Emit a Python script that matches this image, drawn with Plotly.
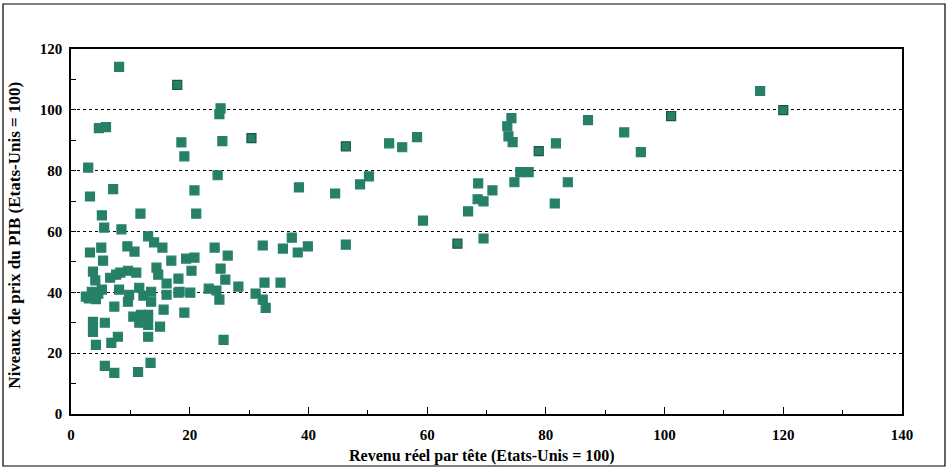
import plotly.graph_objects as go

# Revenu réel par tête (Etats-Unis = 100)
revenu = [
    8.1, 17.9, 25.2, 25.0, 4.7, 5.9, 18.6, 25.5, 19.1, 2.9,
    24.7, 3.2, 7.1, 20.8, 5.2, 11.7, 21.1, 5.6, 8.5, 13.0,
    14.0, 15.4, 9.5, 10.7, 3.2, 5.1, 5.4, 16.9, 19.4, 20.8,
    20.3, 3.7, 7.6, 8.3, 9.6, 11.0, 14.4, 14.7, 18.1, 4.1,
    6.6, 16.1, 11.5, 8.1, 9.8, 13.5, 12.2, 16.1, 18.3, 5.2,
    2.5, 3.7, 7.3, 9.6, 13.5, 15.6, 10.5, 11.8, 13.0, 11.5,
    13.0, 3.7, 5.7, 3.7, 7.9, 13.0, 15.0, 4.2, 6.8, 5.7,
    7.3, 11.3, 13.4, 19.1, 24.2, 26.4, 25.2, 26.0, 23.2, 24.5,
    20.1, 18.1, 25.0, 25.7, 28.2, 32.6, 35.3, 31.1, 32.3, 32.8,
    32.3, 37.2, 35.7, 38.2, 39.9, 46.3, 30.4, 46.3, 53.6, 55.8,
    58.3, 38.4, 44.5, 48.7, 50.2, 59.3, 65.1, 69.5, 66.9, 68.5,
    69.5, 68.6, 71.0, 74.7, 75.7, 77.1, 83.7, 81.5, 74.2, 73.5,
    73.7, 74.4, 78.8, 81.7, 87.1, 93.2, 96.0, 101.1, 116.1, 120.0,
    3.0, 4.2, 3.5, 4.6,
]

# Niveaux de prix du PIB (Etats-Unis = 100)
prix = [
    114.1, 108.2, 100.5, 98.6, 94.0, 94.3, 89.3, 89.7, 84.7, 81.0,
    78.5, 71.5, 73.9, 73.5, 65.3, 65.9, 65.9, 61.3, 60.7, 58.4,
    56.4, 54.7, 55.1, 53.4, 53.1, 54.7, 50.4, 50.4, 51.1, 51.4,
    47.1, 46.8, 45.8, 46.5, 47.1, 46.5, 48.1, 45.8, 44.5, 43.9,
    44.8, 42.9, 41.5, 40.9, 39.2, 40.2, 38.9, 39.2, 40.2, 40.9,
    38.6, 39.2, 35.3, 36.9, 36.9, 34.3, 32.0, 32.6, 32.6, 30.0,
    29.3, 30.3, 30.0, 27.0, 25.4, 25.4, 28.7, 22.7, 23.4, 15.8,
    13.5, 13.8, 16.8, 33.3, 54.7, 52.1, 47.8, 44.2, 41.2, 40.6,
    39.9, 39.9, 37.6, 24.4, 41.9, 43.2, 43.2, 39.6, 37.6, 34.9,
    55.4, 58.0, 54.4, 53.1, 55.1, 55.7, 90.7, 88.0, 89.0, 87.7,
    91.0, 74.5, 72.5, 75.5, 78.1, 63.6, 56.0, 57.7, 66.6, 70.6,
    69.9, 75.8, 73.5, 76.2, 79.5, 79.5, 76.2, 69.2, 97.3, 94.6,
    91.3, 89.4, 86.4, 89.0, 96.6, 92.6, 86.1, 97.9, 106.2, 99.9,
    38.0, 37.8, 40.2, 39.6,
]

x_ticks = [0, 20, 40, 60, 80, 100, 120, 140]
y_ticks = [0, 20, 40, 60, 80, 100, 120]

x_title = "Revenu réel par tête (Etats-Unis = 100)"
y_title = "Niveaux de prix du PIB (Etats-Unis = 100)"

teal = "rgb(38,128,104)"
dark_idx = {1, 96, 97, 106, 122, 127, 129}
line_cols = ["rgb(24,88,72)" if i in dark_idx else teal for i in range(len(revenu))]

fig = go.Figure()
fig.add_trace(go.Scatter(
    x=revenu, y=prix, mode="markers",
    marker=dict(symbol="square", size=9, color=teal,
                line=dict(color=line_cols, width=1.2)),
    hoverinfo="x+y", showlegend=False,
))

font_serif = "Liberation Serif"
fig.update_layout(
    width=950, height=473,
    margin=dict(l=71, r=48, t=49, b=59),
    paper_bgcolor="white", plot_bgcolor="white",
    font=dict(family=font_serif, color="black"),
    xaxis=dict(
        range=[0, 140], tickvals=x_ticks, ticktext=[str(v) for v in x_ticks],
        ticks="inside", ticklen=7, tickwidth=1, tickcolor="black",
        minor=dict(dtick=10, ticks="inside", ticklen=4, tickcolor="black"),
        showgrid=False, zeroline=False,
        showline=True, linecolor="black", linewidth=1.5, mirror=True,
        tickfont=dict(family=font_serif, size=15, color="black", weight="bold"),
        ticklabelstandoff=6,
    ),
    yaxis=dict(
        range=[0, 120], tickvals=y_ticks, ticktext=[str(v) for v in y_ticks],
        ticks="inside", ticklen=5, tickwidth=1, tickcolor="black",
        minor=dict(dtick=10, ticks="inside", ticklen=5, tickcolor="black", showgrid=False),
        showgrid=True, gridcolor="black", gridwidth=1, griddash="dot",
        zeroline=False,
        showline=True, linecolor="black", linewidth=1.5, mirror=True,
        tickfont=dict(family=font_serif, size=15, color="black", weight="bold"),
        ticklabelstandoff=4,
    ),
    annotations=[
        dict(text=x_title, xref="paper", yref="paper", x=0.495, y=-0.115,
             xanchor="center", yanchor="middle", showarrow=False,
             font=dict(family=font_serif, size=16, color="black", weight="bold")),
        dict(text=y_title, xref="paper", yref="paper", x=-0.068, y=0.49,
             xanchor="center", yanchor="middle", showarrow=False, textangle=-90,
             font=dict(family=font_serif, size=17, color="black", weight="bold")),
    ],
    shapes=[
        dict(type="rect", xref="paper", yref="paper",
             x0=(3 - 71) / 831, x1=(945 - 71) / 831,
             y0=(473 - 59 - 466) / 365, y1=(473 - 59 - 4) / 365,
             line=dict(color="black", width=1.2), fillcolor="rgba(0,0,0,0)", layer="below"),
    ],
)

fig.write_html(
    "out.html",
    config={"displayModeBar": False},
    post_script="document.body.style.margin='0px';document.body.style.overflow='hidden';",
)
